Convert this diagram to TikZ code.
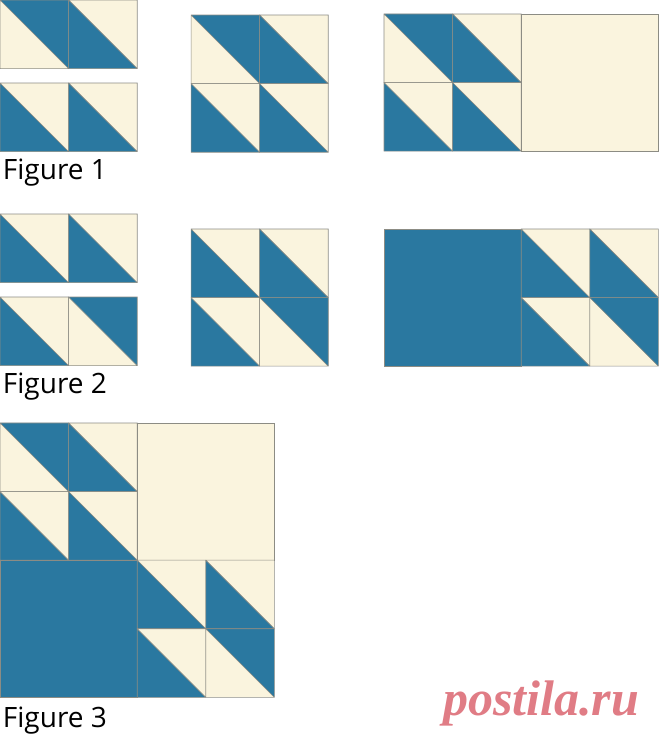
\documentclass[tikz,border=0pt]{standalone}
\usepackage{fontspec}
\usepackage{tikz}
\usetikzlibrary{positioning}
\newfontfamily\figfont{Open Sans}
\newfontfamily\markfont{Liberation Serif}
\definecolor{quiltblue}{RGB}{42,120,160}
\definecolor{cream}{RGB}{250,244,222}
\definecolor{seamgray}{RGB}{140,140,132}
\definecolor{markpink}{RGB}{224,124,133}
\begin{document}
\begin{tikzpicture}
        [x=68.6pt,y=-68.6pt,
        seam/.style={draw=seamgray,line width=0.6pt},
        bluetop/.pic={\fill[cream] (0,0) rectangle (1,1);
                \fill[quiltblue] (0,0) -- (1,0) -- (1,1) -- cycle;
                \draw[seam] (0,0) rectangle (1,1) (0,0) -- (1,1);},
        bluebot/.pic={\fill[cream] (0,0) rectangle (1,1);
                \fill[quiltblue] (0,0) -- (0,1) -- (1,1) -- cycle;
                \draw[seam] (0,0) rectangle (1,1) (0,0) -- (1,1);},
        geeseA/.pic={\pic at (0,0) {bluetop}; \pic at (1,0) {bluebot};
                \pic at (0,1) {bluebot}; \pic at (1,1) {bluebot};},
        geeseB/.pic={\pic at (0,0) {bluebot}; \pic at (1,0) {bluebot};
                \pic at (0,1) {bluebot}; \pic at (1,1) {bluetop};},
        plaincream/.style={fill=cream,seam},
        plainblue/.style={fill=quiltblue,seam},
        caption/.style={font=\figfont\fontsize{28}{30}\selectfont,anchor=base west,inner sep=0},]
\useasboundingbox (0,0) rectangle (9.621,10.758);

% Figure 1 %
\foreach \k/\p in {0/bluetop,1/bluebot} {\pic at (\k,0) {\p};}
\foreach \k/\p in {0/bluebot,1/bluebot} {\pic at (\k,1.21) {\p};}
\pic at (2.785,0.219) {geeseA};
\begin{scope}[shift={(5.598,0.204)}]
        \pic at (0,0) {geeseA};
        \draw[plaincream] (2,0) rectangle (4,2);
\end{scope}
\node[caption] (fig1) at (0.04,2.61) {Figure 1};

% Figure 2 %
\foreach \k/\p in {0/bluebot,1/bluebot} {\pic at (\k,3.12) {\p};}
\foreach \k/\p in {0/bluebot,1/bluetop} {\pic at (\k,4.33) {\p};}
\pic at (2.785,3.338) {geeseB};
\begin{scope}[shift={(5.598,3.338)}]
        \draw[plainblue] (0,0) rectangle (2,2);
        \pic at (2,0) {geeseB};
\end{scope}
\node[caption] (fig2) at (0.04,5.73) {Figure 2};

% Figure 3 %
\begin{scope}[shift={(0,6.166)}]
        \pic at (0,0) {geeseA};
        \draw[plaincream] (2,0) rectangle (4,2);
        \draw[plainblue] (0,2) rectangle (2,4);
        \pic at (2,2) {geeseB};
\end{scope}
\node[caption] (fig3) at (0.04,10.61) {Figure 3};

% Watermark %
\node[anchor=base west,inner sep=0,text=markpink,font=\markfont\bfseries\itshape\fontsize{50}{52}\selectfont] (mark) at (6.458,10.423) {postila.ru};
\end{tikzpicture}
\end{document}
